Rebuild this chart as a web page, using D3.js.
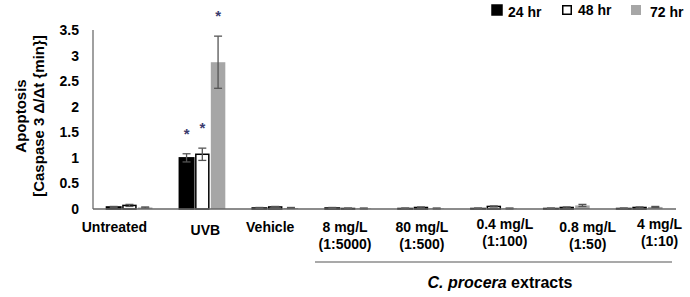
<!DOCTYPE html>
<html>
<head>
<meta charset="utf-8">
<script src="https://cdn.jsdelivr.net/npm/d3@7"></script>
<style>
  body { margin: 0; background: #fff; }
  text { font-family: "Liberation Sans", Arial, sans-serif; font-weight: bold; }
</style>
</head>
<body>
<svg width="690" height="297"></svg>
<script>
// categories along the x axis (two lines for the extract doses)
var categories = ["Untreated", "UVB", "Vehicle", "8 mg/L", "80 mg/L", "0.4 mg/L", "0.8 mg/L", "4 mg/L"];
var subLabels = ["", "", "", "(1:5000)", "(1:500)", "(1:100)", "(1:50)", "(1:10)"];
var series = ["24 hr", "48 hr", "72 hr"];

// mean values, one array per time point
var v24 = [0.04, 1.00, 0.02, 0.02, 0.01, 0.01, 0.01, 0.01];
var v48 = [0.07, 1.07, 0.04, 0.01, 0.03, 0.05, 0.03, 0.03];
var v72 = [0.03, 2.87, 0.02, 0.01, 0.01, 0.01, 0.07, 0.04];
// error bars
var e24 = [0.01, 0.08, 0.01, 0.01, 0.01, 0.01, 0.01, 0.01];
var e48 = [0.02, 0.12, 0.01, 0.01, 0.01, 0.01, 0.01, 0.01];
var e72 = [0.01, 0.51, 0.01, 0.01, 0.01, 0.01, 0.02, 0.01];
// significance stars
var star24 = [false, true, false, false, false, false, false, false];
var star48 = [false, true, false, false, false, false, false, false];
var star72 = [false, true, false, false, false, false, false, false];

var yTicks = [0, 0.5, 1, 1.5, 2, 2.5, 3, 3.5];

var svg = d3.select("svg");

// plot box (note: "top" is a reserved window prop, so use plotTop)
var plotLeft = 93, plotRight = 676, plotTop = 30, plotBottom = 209;

var x = d3.scaleBand().domain(categories).range([plotLeft, plotRight]);
var sub = d3.scaleBand().domain(series).range([0, 46]).paddingInner(0.08);
var y = d3.scaleLinear().domain([0, 3.5]).range([plotBottom, plotTop]);

var fills = ["#000", "#fff", "#a6a6a6"];
var strokes = ["#000", "#000", "none"];
var labelShift = [-15, 3, -5, -3, 1, 11, 21, 20];
var labelDrop = [0, 3, 0, 0, 0, -3, 0, -3];

var values = [v24, v48, v72], errs = [e24, e48, e72], stars = [star24, star48, star72];

// flatten for drawing
var bars = [];
categories.forEach(function(c, i) {
  series.forEach(function(s, j) {
    bars.push({cat: c, ser: s, j: j, v: values[j][i], e: errs[j][i], star: stars[j][i]});
  });
});

function bx(d) { return x(d.cat) + (x.bandwidth() - 46) / 2 + sub(d.ser); }

// bars
svg.append("g").selectAll("rect")
  .data(bars)
  .enter().append("rect")
  .attr("x", function(d) { return bx(d) + (d.j == 1 ? 0.75 : 0); })
  .attr("y", function(d) { return y(d.v); })
  .attr("width", function(d) { return sub.bandwidth() - (d.j == 1 ? 1.5 : 0); })
  .attr("height", function(d) { return y(0) - y(d.v); })
  .attr("fill", function(d) { return fills[d.j]; })
  .attr("stroke", function(d) { return strokes[d.j]; })
  .attr("stroke-width", 1.5);

// error bars
var eb = svg.append("g").attr("stroke", "#555").attr("stroke-width", 1.3);
bars.forEach(function(d) {
  var cx = bx(d) + sub.bandwidth() / 2;
  var t = y(d.v + d.e), b = y(Math.max(0, d.v - d.e));
  eb.append("line").attr("x1", cx).attr("x2", cx).attr("y1", t).attr("y2", b);
  eb.append("line").attr("x1", cx - 4).attr("x2", cx + 4).attr("y1", t).attr("y2", t);
  eb.append("line").attr("x1", cx - 4).attr("x2", cx + 4).attr("y1", b).attr("y2", b);
});

// significance stars
svg.append("g").selectAll("text")
  .data(bars.filter(function(d) { return d.star; }))
  .enter().append("text")
  .attr("x", function(d) { return bx(d) + sub.bandwidth() / 2; })
  .attr("y", function(d) { return y(d.v + d.e) - 15; })
  .attr("text-anchor", "middle")
  .attr("font-size", 15)
  .attr("fill", "#3b3b6e")
  .text("*");

// axes
svg.append("line").attr("x1", plotLeft).attr("x2", plotLeft).attr("y1", plotTop).attr("y2", plotBottom)
  .attr("stroke", "#808080").attr("stroke-width", 1.5);
svg.append("line").attr("x1", plotLeft).attr("x2", plotRight).attr("y1", plotBottom).attr("y2", plotBottom)
  .attr("stroke", "#666").attr("stroke-width", 1.5);

svg.append("g").selectAll("text")
  .data(yTicks)
  .enter().append("text")
  .attr("x", 79)
  .attr("y", function(d) { return y(d) + 5; })
  .attr("text-anchor", "end")
  .attr("font-size", 14)
  .text(function(d) { return d; });

// y title
var yt = svg.append("text")
  .attr("transform", "translate(26," + 116 + ") rotate(-90)")
  .attr("text-anchor", "middle")
  .attr("font-size", 15);
yt.append("tspan").attr("x", 0).attr("dy", 0).text("Apoptosis");
yt.append("tspan").attr("x", 0).attr("dy", 18).text("[Caspase 3 \u0394/\u0394t {min}]");

// x labels
categories.forEach(function(c, i) {
  var cx = x(c) + x.bandwidth() / 2 + labelShift[i];
  svg.append("text").attr("x", cx).attr("y", 232 + labelDrop[i])
    .attr("text-anchor", "middle").attr("font-size", 14).text(c);
  if (subLabels[i])
    svg.append("text").attr("x", cx).attr("y", 249 + labelDrop[i])
      .attr("text-anchor", "middle").attr("font-size", 14).text(subLabels[i]);
});

// bracket for extracts
svg.append("line").attr("x1", 315).attr("x2", 672).attr("y1", 262).attr("y2", 262)
  .attr("stroke", "#555").attr("stroke-width", 1.2);
var ct = svg.append("text").attr("x", 500).attr("y", 288)
  .attr("text-anchor", "middle").attr("font-size", 16);
ct.append("tspan").attr("font-style", "italic").text("C. procera");
ct.append("tspan").text(" extracts");

// legend
var lg = svg.append("g").selectAll("g")
  .data(series)
  .enter().append("g")
  .attr("transform", function(d, i) { return "translate(" + [492, 562, 631][i] + ",5)"; });
lg.append("rect")
  .attr("x", function(d, i) { return i == 1 ? 0.75 : 0; })
  .attr("y", function(d, i) { return i == 1 ? 0.75 : 0; })
  .attr("width", function(d, i) { return i == 1 ? 8.5 : 10; })
  .attr("height", function(d, i) { return i == 1 ? 8.5 : 10; })
  .attr("fill", function(d, i) { return fills[i]; })
  .attr("stroke", function(d, i) { return strokes[i]; })
  .attr("stroke-width", 1.5);
lg.append("text")
  .attr("x", function(d, i) { return i == 2 ? 19 : 16; })
  .attr("y", function(d, i) { return i == 1 ? 10 : 12; })
  .attr("font-size", 14)
  .text(function(d) { return d; });
</script>
</body>
</html>
